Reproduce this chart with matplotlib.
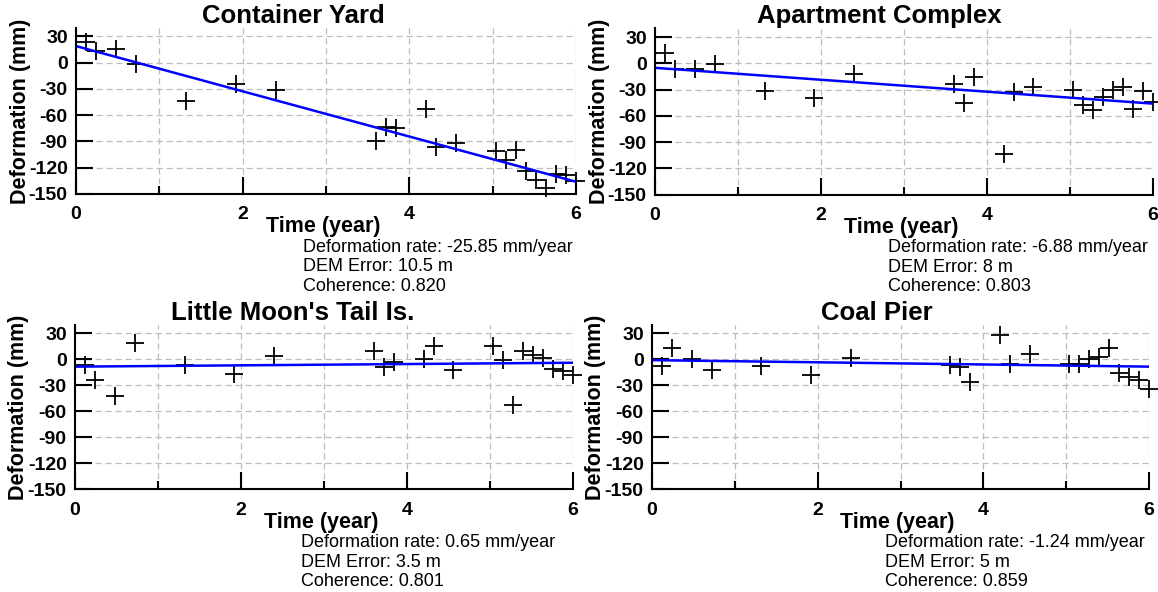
import matplotlib.pyplot as plt
from matplotlib.ticker import FixedLocator

plt.rcParams['font.family'] = ['Liberation Sans', 'DejaVu Sans']
plt.rcParams['font.weight'] = 'bold'
plt.rcParams['axes.unicode_minus'] = False

# acquisition times (years) shared by all four sites
time_yr = [0.12, 0.24, 0.48, 0.72, 1.32, 1.92, 2.40, 3.60, 3.72, 3.84, 4.20,
           4.32, 4.56, 5.04, 5.16, 5.28, 5.40, 5.52, 5.64, 5.76, 5.88, 6.00]

container_yard = [24, 13, 16, -1, -44, -24, -31, -89, -74, -75, -53,
                  -96, -92, -101, -111, -100, -124, -134, -143, -127, -128, -135]
apartment = [12, -6, -6, -1, -32, -40, -12, -23, -45, -16, -104,
             -33, -27, -30, -48, -53, -38, -30, -27, -52, -32, -44]
little_moon = [-7, -24, -42, 19, -7, -17, 4, 9, -9, -3, 0,
               15, -12, 15, -1, -53, 9, 5, 1, -11, -13, -18]
coal_pier = [-8, 13, 0, -12, -8, -18, 2, -7, -9, -26, 28,
             -5, 6, -5, -5, 0, 3, 13, -16, -20, -24, -34]

titles = ["Container Yard", "Apartment Complex", "Little Moon's Tail Is.", "Coal Pier"]
series = [container_yard, apartment, little_moon, coal_pier]

# linear fit endpoints
fit_t = [0, 6]
fit_start = [19, -5, -8.5, -1]
fit_end = [-136, -46, -4, -8.5]

rates = ["-25.85", "-6.88", "0.65", "-1.24"]
dem_err = ["10.5", "8", "3.5", "5"]
coherence = ["0.820", "0.803", "0.801", "0.859"]

y_ticks = [-150, -120, -90, -60, -30, 0, 30]

W, H = 1158, 592
fig = plt.figure(figsize=(W / 100, H / 100), dpi=100)

# axes boxes in pixels: left, right, top(y=40), bottom(y=-150)
boxes = [(76, 576, 27.7, 194), (655, 1153, 28.5, 194.5),
         (75, 573, 324.6, 489.3), (652, 1149, 324.6, 489.3)]
title_x = [0.435, 0.45, 0.438, 0.452]
text_x = [0.454, 0.467, 0.454, 0.469]

for i, (l, r, t, b) in enumerate(boxes):
    ax = fig.add_axes([l / W, 1 - b / H, (r - l) / W, (b - t) / H])
    ax.plot(time_yr, series[i], '+', color='black', ms=13, mew=1.3, clip_on=False)
    ax.plot(fit_t, [fit_start[i], fit_end[i]], color='blue', lw=1.8)

    ax.set_xlim(0, 6)
    ax.set_ylim(-150, 40)
    ax.set_xticks([0, 2, 4, 6])
    ax.xaxis.set_minor_locator(FixedLocator([1, 3, 5]))
    ax.set_yticks(y_ticks)
    ax.spines['top'].set_visible(False)
    ax.spines['right'].set_visible(False)
    ax.spines['left'].set_linewidth(1.5)
    ax.spines['bottom'].set_linewidth(1.5)
    ax.tick_params(axis='x', which='major', direction='in', length=12.5, width=1.5,
                   labelsize=14, pad=9)
    ax.tick_params(axis='x', which='minor', direction='in', length=6, width=1.5)
    ax.tick_params(axis='y', direction='in', length=12, width=1.5,
                   labelsize=14, pad=6)
    ax.grid(True, axis='x', which='both', linestyle=(0, (5, 3)), color='#bdbdbd', lw=0.9)
    ax.grid(True, axis='y', which='major', linestyle=(0, (5, 3)), color='#bdbdbd', lw=0.9)
    ax.set_axisbelow(True)

    ax.set_title(titles[i], x=title_x[i], fontsize=18.5, fontweight='bold', pad=2)
    ax.set_ylabel("Deformation (mm)", fontsize=15.5, fontweight='bold', va='center')
    ax.yaxis.set_label_coords(-56 / (r - l), 0.5)
    ax.set_xlabel("Time (year)", fontsize=15.5, fontweight='bold', va='center')
    ax.xaxis.set_label_coords(0.494, -33 / (b - t))

    lines = ["Deformation rate: %s mm/year" % rates[i],
             "DEM Error: %s m" % dem_err[i],
             "Coherence: %s" % coherence[i]]
    for k, s in enumerate(lines):
        ax.annotate(s, xy=(text_x[i], 0), xycoords='axes fraction',
                    xytext=(0, -(38.5 + 13.9 * k)), textcoords='offset points',
                    va='center', ha='left', fontsize=13, fontweight='normal')

fig.savefig("out.png", dpi=100)
